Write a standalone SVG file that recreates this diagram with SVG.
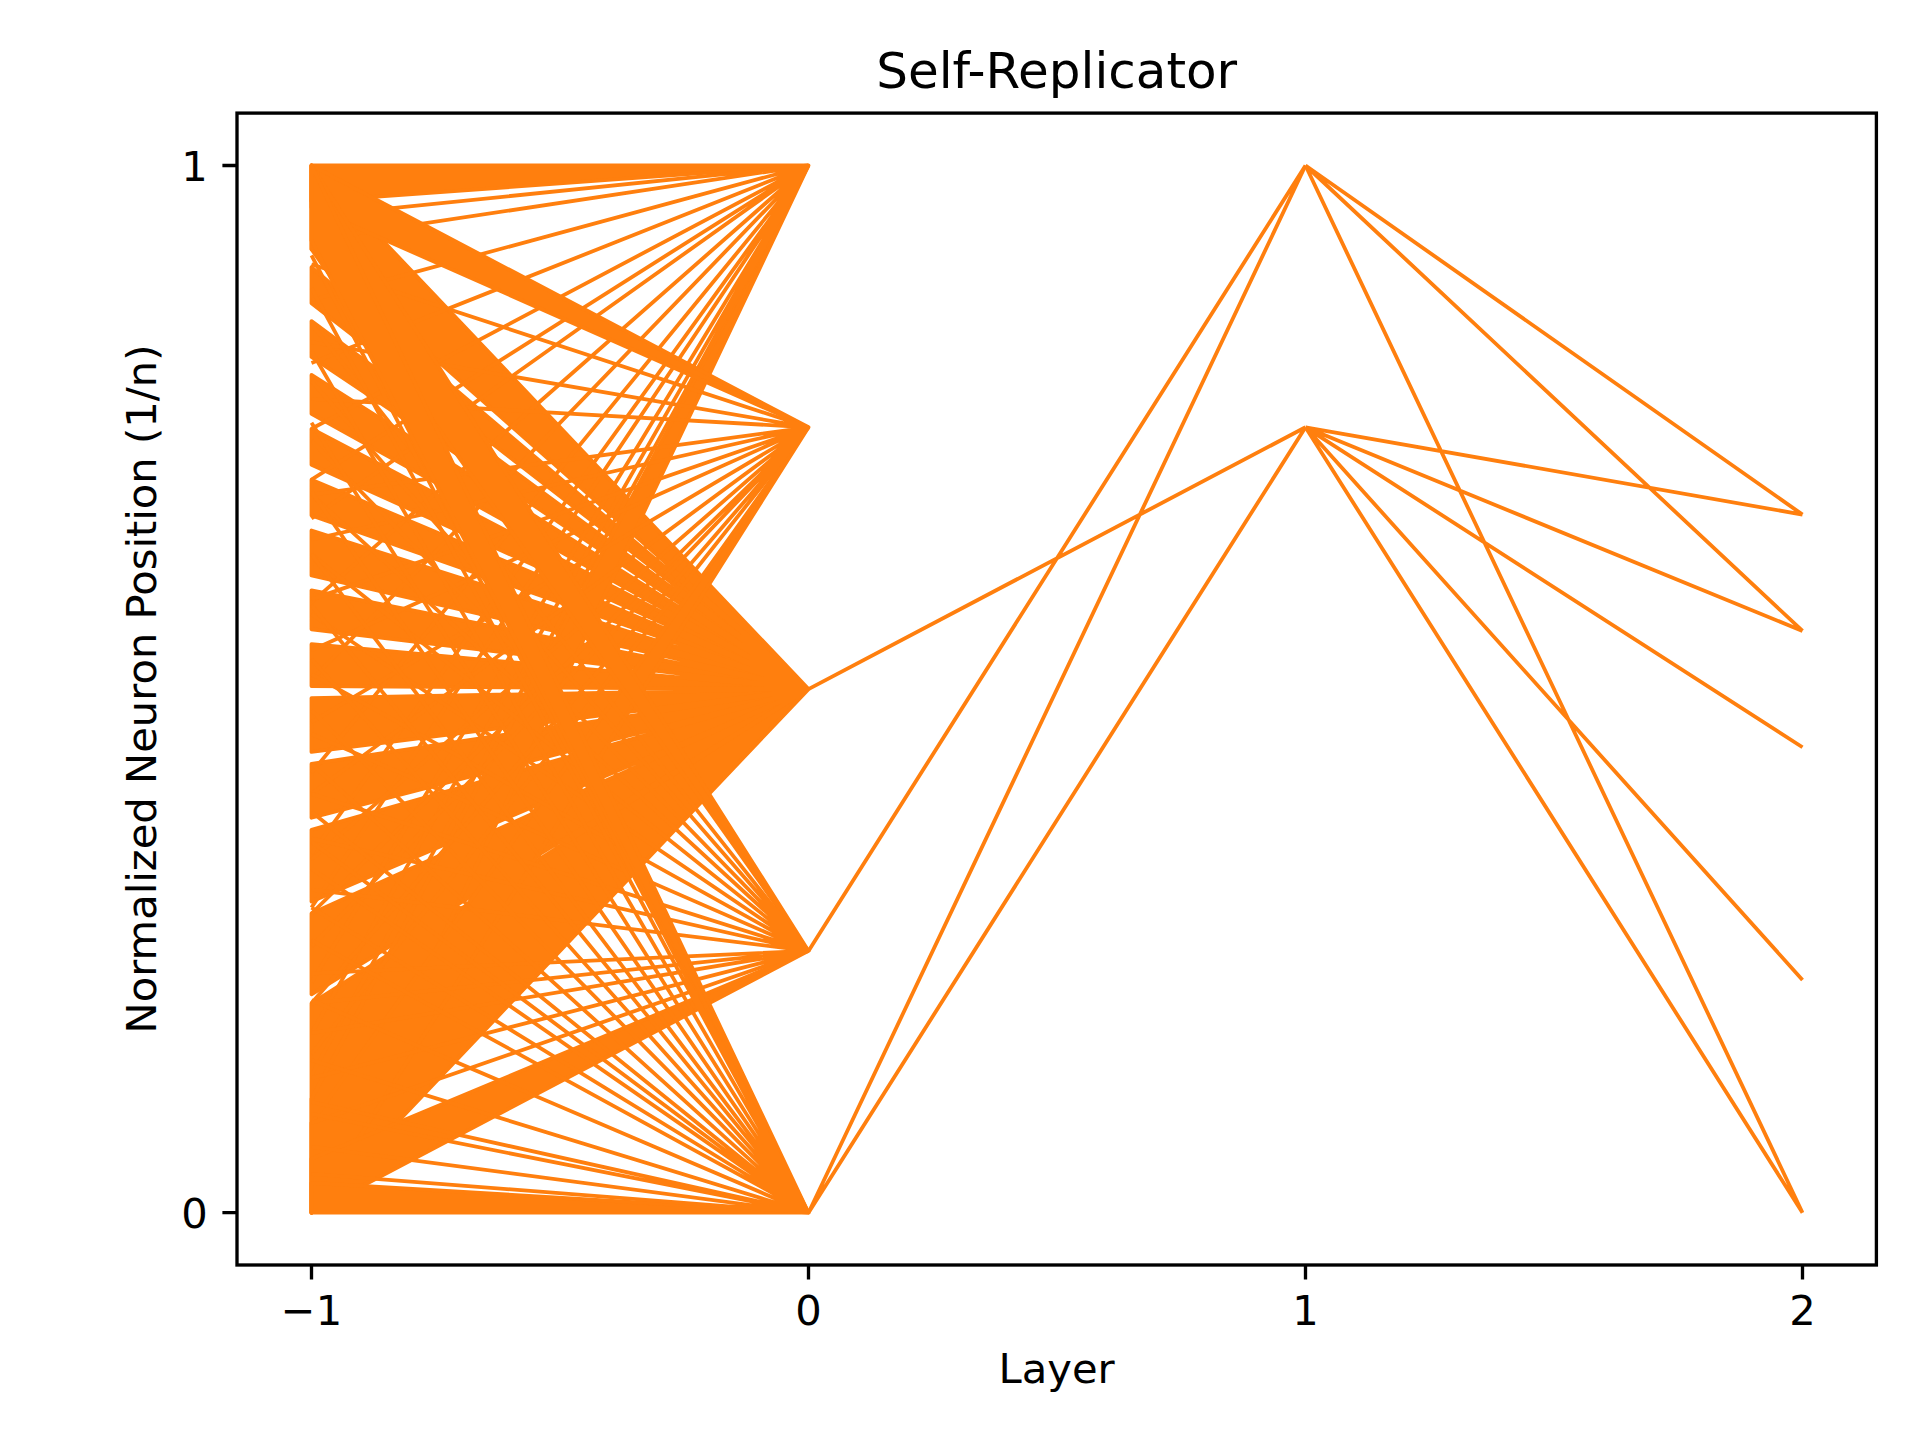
<svg xmlns="http://www.w3.org/2000/svg" width="1920" height="1440" viewBox="0 0 1920 1440">
<style>
.ln{fill:none;stroke:#ff7f0e;stroke-width:3.8;vector-effect:non-scaling-stroke;stroke-linecap:butt}
.bd{fill:#ff7f0e;stroke:#ff7f0e;stroke-width:3.8;vector-effect:non-scaling-stroke;stroke-linejoin:round}
.tk{stroke:#000;stroke-width:3.33}
.t{font-family:"DejaVu Sans",sans-serif;fill:#000}
</style>
<rect width="1920" height="1440" fill="#fff"/>
<g id="connectors" transform="matrix(497 0 0 -2.992 808.5 1212.7)">
<g id="to-n5">
<path class="bd" d="M-1 0L-1 70L0 175Z M-1 73L-1 100L0 175Z M-1 104L-1 128L0 175Z M-1 132L-1 150L0 175Z M-1 154L-1 172L0 175Z M-1 176L-1 190L0 175Z M-1 195L-1 208L0 175Z M-1 213L-1 228L0 175Z M-1 233L-1 245L0 175Z M-1 250L-1 262L0 175Z M-1 267L-1 280L0 175Z M-1 286L-1 298L0 175Z M-1 304L-1 316L0 175Z M-1 322L-1 350L0 175Z"/>
</g>
<g id="to-n1">
<path class="bd" d="M-1 338L-1 350L0 350Z M-1 0L-1 38L0 350Z"/>
<path class="ln" d="M-1 333L0 350M-1 325L0 350M-1 305L0 350M-1 284L0 350M-1 262L0 350M-1 245L0 350M-1 232L0 350M-1 204L0 350M-1 178L0 350M-1 147L0 350M-1 120L0 350M-1 102L0 350M-1 77L0 350M-1 60L0 350M-1 46L0 350"/>
</g>
<g id="to-n75">
<path class="bd" d="M-1 336L-1 350L0 262.5Z M-1 0L-1 30L0 262.5Z"/>
<path class="ln" d="M-1 317L0 262.5M-1 291L0 262.5M-1 272L0 262.5M-1 240L0 262.5M-1 225L0 262.5M-1 205L0 262.5M-1 188L0 262.5M-1 164L0 262.5M-1 140L0 262.5M-1 118L0 262.5M-1 100L0 262.5M-1 89L0 262.5M-1 70L0 262.5M-1 53L0 262.5"/>
</g>
<g id="to-n25">
<path class="bd" d="M-1 322L-1 350L0 87.5Z M-1 0L-1 18L0 87.5Z"/>
<path class="ln" d="M-1 297L0 87.5M-1 278L0 87.5M-1 258L0 87.5M-1 240L0 87.5M-1 220L0 87.5M-1 200L0 87.5M-1 180L0 87.5M-1 160L0 87.5M-1 140L0 87.5M-1 125L0 87.5M-1 108L0 87.5M-1 80L0 87.5M-1 70L0 87.5M-1 60L0 87.5M-1 45L0 87.5M-1 30L0 87.5"/>
</g>
<g id="to-n0">
<path class="bd" d="M-1 325L-1 350L0 0Z M-1 0L-1 10L0 0Z"/>
<path class="ln" d="M-1 13L0 0M-1 22L0 0M-1 33L0 0M-1 37L0 0M-1 51L0 0M-1 71L0 0M-1 91L0 0M-1 102L0 0M-1 115L0 0M-1 124L0 0M-1 134L0 0M-1 150L0 0M-1 168L0 0M-1 185L0 0M-1 203L0 0M-1 220L0 0M-1 241L0 0M-1 264L0 0M-1 288L0 0M-1 309L0 0M-1 320L0 0"/>
</g>
<g id="layer0-1">
<path class="ln" d="M0 175L1 262.5M0 87.5L1 350M0 0L1 350M0 0L1 262.5"/>
</g>
<g id="layer1-2">
<path class="ln" d="M1 350L2 233.33M1 350L2 194.44M1 350L2 0M1 262.5L2 233.33M1 262.5L2 194.44M1 262.5L2 155.56M1 262.5L2 77.78M1 262.5L2 0"/>
</g>
</g>
<g id="axes">
<rect x="237" y="113.1" width="1639.4" height="1151.9" fill="none" stroke="#000" stroke-width="3.33"/>
<path class="tk" d="M311.5 1265V1279.6M808.5 1265V1279.6M1305.5 1265V1279.6M1802.5 1265V1279.6M237 165.5H222.4M237 1212.7H222.4"/>
<g class="t" font-size="41.67" text-anchor="middle">
<text x="311.5" y="1325">−1</text>
<text x="808.5" y="1325">0</text>
<text x="1305.5" y="1325">1</text>
<text x="1802.5" y="1325">2</text>
</g>
<g class="t" font-size="41.67" text-anchor="end">
<text x="207.8" y="180.7">1</text>
<text x="207.8" y="1228">0</text>
</g>
<text class="t" font-size="41.67" text-anchor="middle" x="1056.7" y="1383">Layer</text>
<text class="t" font-size="41.67" text-anchor="middle" transform="translate(156,689) rotate(-90)">Normalized Neuron Position (1/n)</text>
<text class="t" font-size="50" text-anchor="middle" x="1056.7" y="87.5">Self-Replicator</text>
</g>
</svg>
